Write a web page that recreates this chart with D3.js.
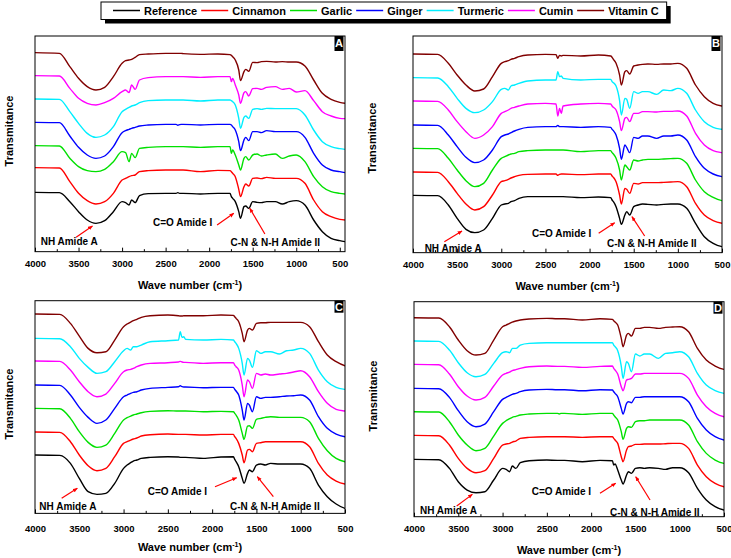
<!DOCTYPE html>
<html>
<head>
<meta charset="utf-8">
<script src="https://cdn.jsdelivr.net/npm/d3@7"></script>
<style>
  body { margin: 0; background: #fff; }
  svg { display: block; }
  text { font-family: "Liberation Sans", Arial, sans-serif; font-weight: bold; }
</style>
</head>
<body>
<div id="chart"></div>
<script>
// Wave numbers (cm-1) shared by every spectrum
var waveNumbers = [4000, 3720, 3600, 3500, 3400, 3300, 3200, 3100, 3000, 2960, 2920, 2890, 2850, 2800, 2700, 2500,
  2380, 2360, 2340, 2320, 2300, 2100, 1900, 1760, 1745, 1730, 1700, 1660, 1640, 1600, 1580, 1545, 1500, 1450, 1400,
  1340, 1240, 1160, 1080, 1000, 900, 800, 700, 600, 500, 440];

var seriesNames = ["Reference", "Cinnamon", "Garlic", "Ginger", "Turmeric", "Cumin", "Vitamin C"];
var tickValues = [4000, 3500, 3000, 2500, 2000, 1500, 1000, 500];
var minorTicks = [3750, 3250, 2750, 2250, 1750, 1250, 750];
var bandLabels = ["NH Amide A", "C=O Amide I", "C-N & N-H Amide II"];
var panelLetters = ["A", "B", "C", "D"];

// Transmittance, arbitrary units (stacked), panel A
var refA = [178, 177, 150, 120, 95, 85, 93, 120, 150, 147, 140, 155, 147, 168, 174, 175, 175, 177, 175, 175, 175, 173, 175, 175, 165, 160, 150, 120, 100, 135, 137, 130, 150, 148, 147, 150, 150, 143, 150, 153, 140, 95, 60, 40, 33, 30];
var cinA = [252, 251, 210, 175, 153, 143, 150, 175, 215, 220, 225, 228, 230, 240, 243, 245, 245, 245, 245, 245, 245, 240, 244, 243, 240, 235, 225, 187, 165, 195, 203, 197, 220, 221, 219, 223, 220, 220, 220, 220, 205, 155, 120, 105, 97, 95];
var garA = [318, 317, 280, 255, 243, 240, 247, 270, 300, 297, 270, 295, 282, 310, 313, 315, 315, 315, 315, 315, 315, 313, 315, 315, 295, 305, 290, 260, 245, 280, 285, 275, 290, 293, 287, 290, 293, 280, 287, 290, 270, 225, 195, 180, 175, 173];
var ginA = [388, 387, 347, 313, 290, 280, 287, 315, 357, 363, 367, 370, 373, 377, 380, 382, 382, 379, 381, 382, 382, 380, 382, 382, 380, 375, 365, 330, 303, 335, 343, 333, 360, 360, 357, 363, 360, 360, 360, 360, 343, 295, 260, 245, 240, 237];
var turA = [458, 457, 420, 385, 355, 343, 350, 375, 420, 427, 433, 437, 440, 447, 453, 455, 455, 455, 455, 455, 455, 452, 455, 455, 453, 450, 440, 400, 370, 403, 407, 400, 427, 429, 427, 430, 429, 429, 429, 429, 410, 365, 330, 315, 309, 307];
var cumA = [528, 527, 490, 460, 445, 440, 447, 460, 480, 485, 477, 500, 487, 515, 522, 525, 525, 525, 525, 525, 525, 523, 525, 525, 510, 520, 500, 470, 445, 477, 480, 467, 489, 490, 487, 493, 495, 487, 490, 479, 483, 453, 420, 407, 400, 399];
var vitA = [597, 595, 555, 520, 495, 485, 493, 525, 565, 573, 575, 577, 583, 591, 593, 595, 595, 595, 595, 595, 594, 592, 593, 591, 589, 585, 575, 545, 513, 540, 547, 541, 568, 567, 570, 571, 569, 570, 569, 569, 557, 515, 475, 457, 448, 445];

// panel B
var refB = [172, 171, 143, 103, 70, 60, 68, 103, 143, 146, 148, 153, 156, 163, 168, 168, 168, 168, 168, 168, 168, 165, 167, 165, 158, 153, 138, 103, 85, 113, 123, 113, 138, 143, 146, 145, 143, 145, 146, 146, 133, 88, 48, 28, 18, 16];
var cinB = [242, 241, 213, 178, 146, 128, 138, 173, 213, 216, 220, 224, 228, 232, 235, 236, 236, 232, 235, 236, 236, 234, 236, 236, 230, 226, 213, 173, 146, 193, 190, 178, 208, 206, 210, 210, 210, 211, 212, 213, 198, 148, 113, 96, 88, 86];
var garB = [313, 312, 283, 248, 216, 198, 208, 248, 283, 288, 293, 296, 298, 303, 306, 308, 308, 308, 308, 308, 308, 303, 306, 306, 300, 296, 283, 248, 218, 263, 258, 248, 278, 275, 278, 280, 280, 281, 282, 283, 268, 218, 183, 166, 156, 154];
var ginB = [383, 382, 353, 318, 286, 270, 278, 308, 348, 353, 356, 360, 365, 370, 376, 378, 378, 382, 378, 378, 378, 376, 378, 376, 370, 366, 353, 313, 280, 323, 316, 300, 346, 343, 350, 350, 343, 350, 350, 353, 338, 288, 253, 236, 228, 226];
var turB = [525, 524, 498, 463, 433, 420, 428, 453, 490, 493, 488, 500, 503, 508, 515, 518, 518, 543, 528, 530, 523, 518, 520, 520, 513, 510, 500, 456, 413, 463, 460, 433, 483, 478, 483, 483, 475, 488, 486, 493, 478, 428, 393, 376, 370, 368];
var cumB = [455, 454, 428, 393, 363, 343, 353, 378, 418, 423, 428, 433, 436, 440, 446, 448, 446, 410, 433, 418, 440, 446, 448, 446, 440, 436, 428, 393, 366, 403, 406, 393, 418, 418, 423, 423, 422, 424, 424, 425, 410, 358, 323, 306, 300, 298];
var vitB = [596, 595, 568, 533, 503, 485, 491, 528, 568, 573, 576, 580, 583, 588, 593, 595, 594, 583, 592, 590, 592, 590, 593, 590, 586, 580, 568, 533, 503, 543, 546, 536, 560, 563, 565, 566, 565, 566, 566, 568, 553, 503, 468, 448, 440, 438];

// panel C
var refC = [175, 174, 150, 105, 65, 57, 60, 90, 135, 145, 152, 157, 160, 165, 168, 170, 169, 168, 168, 168, 168, 165, 169, 170, 162, 155, 140, 105, 90, 120, 130, 125, 145, 148, 145, 150, 148, 148, 148, 148, 135, 85, 50, 28, 15, 13];
var cinC = [244, 243, 215, 175, 143, 128, 135, 170, 210, 215, 220, 223, 226, 232, 236, 238, 237, 237, 237, 237, 237, 235, 237, 237, 230, 225, 210, 175, 152, 190, 192, 185, 210, 212, 215, 215, 215, 215, 215, 215, 200, 150, 115, 97, 88, 86];
var garC = [315, 314, 285, 245, 213, 198, 205, 240, 280, 287, 292, 295, 298, 302, 306, 308, 307, 307, 307, 307, 307, 305, 306, 305, 300, 295, 280, 240, 222, 262, 263, 255, 282, 285, 288, 290, 288, 288, 288, 288, 275, 225, 188, 165, 155, 153];
var ginC = [385, 384, 355, 318, 288, 270, 280, 315, 350, 355, 360, 363, 365, 370, 375, 378, 380, 383, 380, 379, 379, 377, 378, 378, 372, 367, 355, 310, 280, 330, 325, 305, 350, 345, 348, 348, 350, 352, 353, 355, 340, 290, 255, 238, 230, 228];
var turC = [525, 524, 500, 465, 438, 420, 425, 455, 488, 495, 490, 500, 500, 505, 515, 518, 520, 545, 528, 530, 522, 520, 522, 520, 515, 510, 495, 450, 415, 465, 460, 438, 488, 480, 485, 485, 478, 488, 490, 495, 480, 430, 395, 378, 372, 370];
var cumC = [457, 456, 430, 395, 365, 350, 358, 390, 425, 430, 432, 435, 440, 445, 450, 452, 454, 456, 454, 453, 453, 450, 452, 452, 445, 440, 430, 385, 350, 400, 395, 375, 420, 415, 418, 415, 418, 420, 424, 428, 410, 365, 330, 312, 307, 305];
var vitC = [598, 597, 570, 532, 495, 482, 485, 520, 560, 568, 574, 578, 582, 588, 593, 595, 593, 592, 592, 593, 593, 593, 595, 594, 590, 585, 575, 540, 515, 550, 555, 550, 570, 572, 572, 573, 573, 573, 573, 573, 560, 515, 475, 455, 443, 441];

// panel D
var refD = [172, 171, 145, 105, 80, 72, 75, 110, 145, 142, 135, 152, 145, 162, 168, 170, 169, 169, 169, 169, 169, 165, 169, 168, 155, 158, 140, 110, 98, 125, 135, 130, 145, 147, 145, 147, 145, 142, 147, 147, 132, 85, 50, 30, 20, 18];
var cinD = [244, 243, 215, 175, 145, 132, 138, 175, 215, 218, 220, 224, 227, 235, 238, 240, 240, 240, 240, 240, 240, 238, 240, 240, 235, 230, 220, 180, 165, 200, 210, 212, 217, 217, 218, 218, 218, 219, 220, 220, 205, 155, 120, 100, 90, 88];
var garD = [315, 314, 285, 245, 215, 198, 205, 242, 280, 288, 294, 298, 301, 305, 308, 310, 310, 308, 310, 310, 310, 307, 310, 310, 305, 300, 290, 255, 232, 265, 270, 268, 285, 288, 288, 290, 290, 290, 290, 290, 275, 225, 190, 170, 160, 158];
var ginD = [385, 384, 358, 318, 285, 270, 278, 315, 352, 358, 363, 367, 370, 375, 380, 382, 381, 381, 381, 381, 381, 378, 381, 380, 375, 370, 360, 325, 308, 340, 345, 342, 358, 358, 360, 360, 360, 360, 360, 360, 345, 295, 260, 240, 230, 228];
var turD = [527, 526, 500, 462, 432, 420, 427, 460, 492, 495, 492, 505, 505, 515, 520, 522, 522, 522, 522, 522, 522, 522, 522, 522, 515, 510, 498, 452, 415, 465, 460, 435, 488, 482, 488, 488, 475, 490, 492, 495, 480, 430, 395, 378, 370, 368];
var cumD = [457, 456, 428, 390, 362, 350, 358, 392, 425, 430, 434, 438, 441, 445, 450, 452, 451, 451, 451, 451, 451, 448, 451, 452, 445, 440, 428, 390, 378, 410, 412, 415, 428, 428, 430, 430, 430, 430, 430, 430, 415, 365, 330, 310, 300, 298];
var vitD = [597, 596, 570, 530, 498, 485, 490, 530, 570, 575, 580, 584, 587, 590, 593, 595, 594, 594, 594, 594, 594, 590, 594, 592, 588, 584, 575, 535, 510, 545, 550, 542, 565, 565, 568, 568, 565, 568, 569, 570, 555, 505, 470, 452, 442, 440];

var colors = ["#000000", "#ff0000", "#00e000", "#0000ff", "#00eeff", "#ff00ff", "#800000"];
var font = 9.5;

// Panel frames; notes hold [wave number, a.u.] anchors for text start and arrow tail/head
var panels = [
  {series: [refA, cinA, garA, ginA, turA, cumA, vitA], left: 35, right: 345, top: 36, yMax: 647, xEnd: 440,
   titleX: 9, titleY: 131, tickY: 11.5, letterH: 15,
   notes: [[3935, 19, 3528, 43, 3340, 77], [2645, 76, 1909, 80, 1717, 115], [1755, 17, 1360, 53, 1533, 130]]},
  {series: [refB, cinB, garB, ginB, turB, cumB, vitB], left: 413, right: 722, top: 36, yMax: 650, xEnd: 500,
   titleX: 372, titleY: 138, tickY: 11.5, letterH: 15,
   notes: [[3868, 3, 3645, 33, 3445, 65], [2652, 47, 1897, 58, 1716, 90], [1803, 17, 1376, 50, 1520, 108]]},
  {series: [refC, cinC, garC, ginC, turC, cumC, vitC], left: 35, right: 345, top: 300.7, yMax: 638, xEnd: 500,
   titleX: 9, titleY: 404, tickY: 14.5, letterH: 12,
   notes: [[3951, 11, 3699, 45, 3522, 75], [2728, 56, 1968, 80, 1723, 107], [1798, 11, 1309, 50, 1490, 110]]},
  {series: [refD, cinD, garD, ginD, turD, cumD, vitD], left: 414, right: 724, top: 301.7, yMax: 645, xEnd: 500,
   titleX: 373, titleY: 396, tickY: 11.5, letterH: 12,
   notes: [[3932, 7, 3518, 32, 3341, 67], [2671, 64, 1900, 70, 1723, 100], [1787, 2, 1335, 50, 1497, 120]]}
];

var width = 731, height = 558;

var svg = d3.select("#chart").append("svg")
            .attr("width", width)
            .attr("height", height)

var defs = svg.append("defs")
defs.append("marker").attr("id", "arrow")
    .attr("viewBox", "0 0 10 10").attr("refX", 9).attr("refY", 5)
    .attr("markerWidth", 4).attr("markerHeight", 4).attr("orient", "auto")
    .append("path").attr("d", "M0,1 L10,5 L0,9 z").attr("fill", "#ff0000")

panels.forEach(function(p, pi) {
  var bottom = p.top + p.yMax / 3;

  var xScale = d3.scaleLinear().domain([4000, p.xEnd]).range([p.left, p.right]);
  var yScale = d3.scaleLinear().domain([0, p.yMax]).range([bottom, p.top]);

  var g = svg.append("g");

  defs.append("clipPath").attr("id", "clip" + pi)
      .append("rect").attr("x", p.left).attr("y", p.top)
      .attr("width", p.right - p.left).attr("height", bottom - p.top)

  var line = d3.line()
               .x((d, i) => xScale(waveNumbers[i]))
               .y((d) => yScale(d))
               .curve(d3.curveMonotoneX)

  // Spectra, top curve first
  g.append("g").attr("clip-path", "url(#clip" + pi + ")")
   .selectAll("path")
   .data(p.series.map((s, i) => ({values: s, color: colors[i]})).reverse())
   .join("path")
   .attr("d", (d) => line(d.values))
   .attr("fill", "none")
   .attr("stroke", (d) => d.color)
   .attr("stroke-width", 1.4)
   .attr("stroke-linejoin", "round")

  // Bottom axis, ticks pointing inwards
  var xAxis = d3.axisBottom(xScale).tickValues(tickValues)
                .tickSizeInner(-4).tickSizeOuter(0).tickPadding(p.tickY - 3)
                .tickFormat(d3.format("d"))
  var axisG = g.append("g")
               .attr("transform", "translate(0," + bottom + ")")
               .call(xAxis)
  axisG.selectAll("text").attr("font-size", font).attr("fill", "#000")
  axisG.select(".domain").remove()

  var minorAxis = d3.axisBottom(xScale).tickValues(minorTicks)
                    .tickSizeInner(-2.5).tickSizeOuter(0).tickFormat("")
  g.append("g").attr("transform", "translate(0," + bottom + ")")
   .call(minorAxis).select(".domain").remove()

  // Frame
  g.append("rect").attr("x", p.left).attr("y", p.top)
   .attr("width", p.right - p.left).attr("height", bottom - p.top)
   .attr("fill", "none").attr("stroke", "#000").attr("stroke-width", 1)

  // Axis titles
  var xt = g.append("text")
            .attr("x", (p.left + p.right) / 2)
            .attr("y", bottom + 37.5)
            .attr("text-anchor", "middle")
            .attr("font-size", 11)
  xt.append("tspan").text("Wave number (cm")
  xt.append("tspan").attr("font-size", 7).attr("dy", -4).text("-1")
  xt.append("tspan").attr("dy", 4).text(")")

  g.append("text")
   .attr("transform", "translate(" + p.titleX + "," + p.titleY + ") rotate(-90)")
   .attr("dy", "0.35em")
   .attr("text-anchor", "middle")
   .attr("font-size", 11)
   .text("Transmitance")

  // Panel letter
  g.append("rect").attr("x", p.right - 10.5).attr("y", p.top)
   .attr("width", 9).attr("height", p.letterH).attr("fill", "#000")
  g.append("text").attr("x", p.right - 6).attr("y", p.top + p.letterH / 2)
   .attr("dy", "0.36em").attr("text-anchor", "middle")
   .attr("font-size", 11).attr("fill", "#fff")
   .text(panelLetters[pi])

  // Band annotations with red arrows
  p.notes.forEach(function(n, ni) {
    g.append("text").attr("x", xScale(n[0])).attr("y", yScale(n[1]))
     .attr("font-size", 10).attr("fill", "#000")
     .text(bandLabels[ni])
    g.append("line")
     .attr("x1", xScale(n[2])).attr("y1", yScale(n[3]))
     .attr("x2", xScale(n[4])).attr("y2", yScale(n[5]))
     .attr("stroke", "#ff0000").attr("stroke-width", 1.2)
     .attr("marker-end", "url(#arrow)")
  })
})

// Legend with drop shadow
var legendG = svg.append("g")
var shadow = legendG.append("rect").attr("fill", "#000")
var box = legendG.append("rect").attr("fill", "#fff").attr("stroke", "#000").attr("stroke-width", 1)

var lx = 113
seriesNames.forEach(function(name, i) {
  legendG.append("line").attr("x1", lx).attr("x2", lx + 27)
         .attr("y1", 10.5).attr("y2", 10.5)
         .attr("stroke", colors[i]).attr("stroke-width", 1.5)
  var t = legendG.append("text").attr("x", lx + 31).attr("y", 14.5)
                 .attr("font-size", 11).text(name)
  lx = lx + 31 + t.node().getComputedTextLength() + 4
})

box.attr("x", 101).attr("y", 2).attr("width", lx - 101 + 4).attr("height", 17.5)
shadow.attr("x", 105).attr("y", 6).attr("width", lx - 101 + 4).attr("height", 17.5)
</script>
</body>
</html>
